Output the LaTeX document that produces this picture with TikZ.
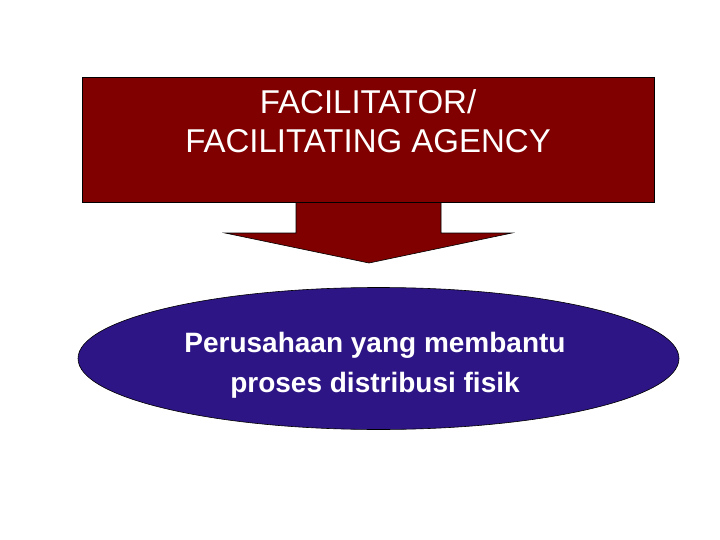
\documentclass[tikz,border=0pt]{standalone}
\usepackage{fontspec}
\setmainfont{Liberation Sans}
\usetikzlibrary{shapes.geometric}
\definecolor{boxred}{RGB}{128,0,0}
\definecolor{ellblue}{RGB}{45,21,133}
\tikzset{
  titlebox/.style={draw=black, line width=0.6pt, fill=boxred, minimum width=572pt, minimum height=125pt, inner sep=0pt},
  bluell/.style={ellipse, draw=black, line width=0.6pt, fill=ellblue, minimum width=601pt, minimum height=142pt, inner sep=0pt},
  whitetext/.style={text=white, align=center, inner sep=0pt},
  downarrow/.style={draw=black, line width=0.6pt, fill=boxred}
}
\begin{document}
\begin{tikzpicture}[x=1pt,y=-1pt]
\useasboundingbox (0,0) rectangle (720,540);
\fill[white] (0,0) rectangle (720,540);
% arrow
\coordinate (tip) at (369,263);
\draw[downarrow] (296,190) -- (296,233) -- (225,233) -- (tip) -- (512,233) -- (441,233) -- (441,190) -- cycle;
\node[titlebox] (box) at (368,139.5) {};
\node[whitetext, font=\fontsize{33}{39}\selectfont] (title) at (368,121.5) {FACILITATOR/\\FACILITATING AGENCY};
\node[bluell] (ell) at (378.5,358.5) {};
\node[whitetext, font=\fontsize{28}{40}\selectfont\bfseries] (etext) at (375,365) {Perusahaan yang membantu\\proses distribusi fisik};
\end{tikzpicture}
\end{document}
